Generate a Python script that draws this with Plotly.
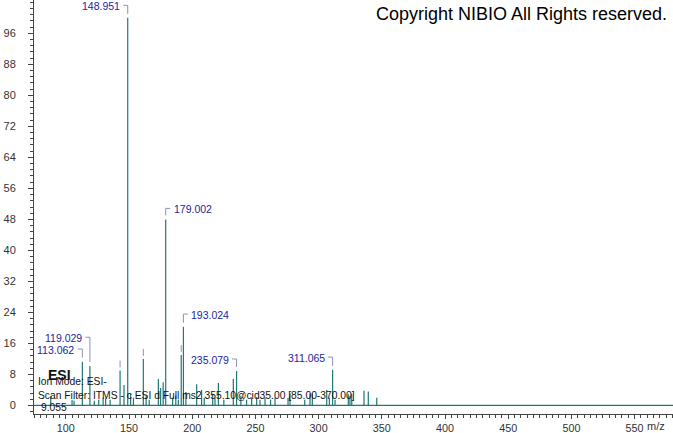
import plotly.graph_objects as go

# ---- data -------------------------------------------------------------
mz = [88.0, 104.9, 106.5, 113.062, 119.029, 122.5, 126.0, 129.5, 131.5, 135.0,
      142.9, 146.0, 148.951, 151.3, 153.5, 161.3, 163.5, 166.0, 173.2, 175.0,
      177.0, 179.002, 184.5, 187.0, 189.0, 191.3, 193.024, 195.0, 203.5, 207.4,
      209.5, 216.2, 218.0, 220.7, 225.0, 232.5, 235.079, 238.5, 243.0, 247.0,
      251.0, 253.6, 257.6, 262.0, 265.5, 275.8, 277.4, 289.0, 293.2, 295.0,
      306.4, 308.5, 311.065, 313.0, 323.5, 324.8, 326.2, 335.9, 339.3, 346.0]
intensity = [2.3, 1.4, 1.2, 11.3, 10.2, 1.2, 1.5, 2.0, 1.8, 1.5,
             9.0, 5.3, 100.0, 3.0, 2.0, 12.0, 2.5, 1.5, 6.8, 4.5,
             6.0, 48.0, 2.0, 2.5, 1.5, 13.0, 20.3, 3.5, 5.5, 4.0,
             2.0, 3.0, 2.0, 5.8, 1.5, 6.8, 8.9, 2.5, 1.5, 2.0,
             2.2, 1.5, 2.0, 1.5, 2.0, 2.0, 3.1, 1.5, 3.0, 3.0,
             4.0, 2.0, 9.2, 1.5, 2.9, 2.5, 3.0, 3.8, 3.6, 2.0]

labeled_mz = [148.951, 179.002, 113.062, 119.029, 193.024, 235.079, 311.065]
label_side = ["left", "right", "left", "left", "right", "left", "left"]
label_rise = [11.5, 10.0, 11.7, 27.7, 11.7, 11.0, 11.7]   # px above peak
hidden_label_mz = [142.9, 161.3, 191.3]

y_ticks = list(range(0, 97, 8))
x_ticks = list(range(100, 551, 50))

info_lines = ["Ion Mode: ESI-",
              "Scan Filter: ITMS - c ESI d Full ms2 355.10@cid35.00 [85.00-370.00]",
              "9.055"]

# ---- layout constants ---------------------------------------------------
W, H = 673, 433
ML, MR, MT, MB = 34, 0, 0, 19
PW, PH = W - ML - MR, H - MT - MB
PEAK = "#1f7777"
LBL = "#24249c"
BRK = "#8f8fbf"
FONT = "Liberation Sans, Arial, sans-serif"


def px(x):
    return (x - ML) / PW


def py(y):
    return (H - MB - y) / PH


lookup = dict(zip(mz, intensity))

xs, ys = [], []
for m, v in zip(mz, intensity):
    xs += [m, m, None]
    ys += [0, v, None]

fig = go.Figure()
fig.add_trace(go.Scatter(x=xs, y=ys, mode="lines",
                         line=dict(color=PEAK, width=1.2),
                         hoverinfo="skip", showlegend=False))

shapes = [dict(type="line", xref="paper", yref="y", x0=0, x1=1, y0=0, y1=0,
               line=dict(color=PEAK, width=1.2), layer="above")]
annotations = []

for m, side, rise in zip(labeled_mz, label_side, label_rise):
    v = lookup[m]
    sgn = -1 if side == "left" else 1
    annotations.append(dict(
        x=m, y=v, xref="x", yref="y", text=f"{m:.3f}", showarrow=False,
        xanchor="right" if side == "left" else "left", yanchor="middle",
        xshift=sgn * 6.0, yshift=rise,
        font=dict(family=FONT, size=10.5, color=LBL)))
    top = rise + 1.0
    shapes.append(dict(type="line", xref="x", yref="y", xsizemode="pixel",
                       ysizemode="pixel", xanchor=m, yanchor=v,
                       x0=0, x1=sgn * 4.5, y0=top, y1=top,
                       line=dict(color=BRK, width=1)))
    shapes.append(dict(type="line", xref="x", yref="y", xsizemode="pixel",
                       ysizemode="pixel", xanchor=m, yanchor=v,
                       x0=0, x1=0, y0=4, y1=top,
                       line=dict(color=BRK, width=1)))

for m in hidden_label_mz:
    v = lookup[m]
    shapes.append(dict(type="line", xref="x", yref="y", xsizemode="pixel",
                       ysizemode="pixel", xanchor=m, yanchor=v,
                       x0=0, x1=0, y0=3, y1=10,
                       line=dict(color=BRK, width=1)))

# info text block
annotations.append(dict(xref="paper", yref="paper", x=px(46), y=py(375),
                        text="<b>ESI</b>", showarrow=False, xanchor="left",
                        yanchor="middle",
                        font=dict(family=FONT, size=14, color="#111")))
for txt, (lx, ly) in zip(info_lines, [(36, 381), (36, 395), (39, 407)]):
    annotations.append(dict(xref="paper", yref="paper", x=px(lx), y=py(ly),
                            text=txt, showarrow=False, xanchor="left",
                            yanchor="middle",
                            font=dict(family=FONT, size=10.3, color="#111")))

annotations.append(dict(xref="paper", yref="paper", x=px(669), y=py(14),
                        text="Copyright NIBIO All Rights reserved.",
                        showarrow=False, xanchor="right", yanchor="middle",
                        font=dict(family=FONT, size=18, color="#000")))
annotations.append(dict(xref="paper", yref="paper", x=px(656), y=py(426),
                        text="m/z", showarrow=False, xanchor="center",
                        yanchor="middle",
                        font=dict(family=FONT, size=11, color="#333")))

fig.update_layout(
    width=W, height=H,
    margin=dict(l=ML, r=MR, t=MT, b=MB, pad=0),
    paper_bgcolor="white", plot_bgcolor="white",
    shapes=shapes, annotations=annotations,
    font=dict(family=FONT, size=11, color="#333"),
    xaxis=dict(range=[74.8, 580.4], tickvals=x_ticks,
               ticktext=[str(t) for t in x_ticks],
               showgrid=False, zeroline=False, showline=True,
               linecolor="#444", linewidth=1, ticks="outside", ticklen=4,
               tickcolor="#444", automargin=False,
               tickfont=dict(size=10.8, color="#333"),
               minor=dict(dtick=5, tick0=0, ticks="outside", ticklen=3,
                          tickcolor="#444", showgrid=False)),
    yaxis=dict(range=[-2.2, 104.6], tickvals=y_ticks,
               ticktext=[str(t) for t in y_ticks],
               showgrid=False, zeroline=False, showline=True,
               linecolor="#444", linewidth=1, ticks="outside", ticklen=5,
               tickcolor="#444", automargin=False, ticklabelstandoff=10,
               tickfont=dict(size=11, color="#333"),
               minor=dict(dtick=1.6, tick0=0, ticks="outside", ticklen=3,
                          tickcolor="#444", showgrid=False)),
)

fig.write_html("out.html", config={"displayModeBar": False},
               post_script="document.body.style.margin='0';"
                           "document.body.style.overflow='hidden';")
